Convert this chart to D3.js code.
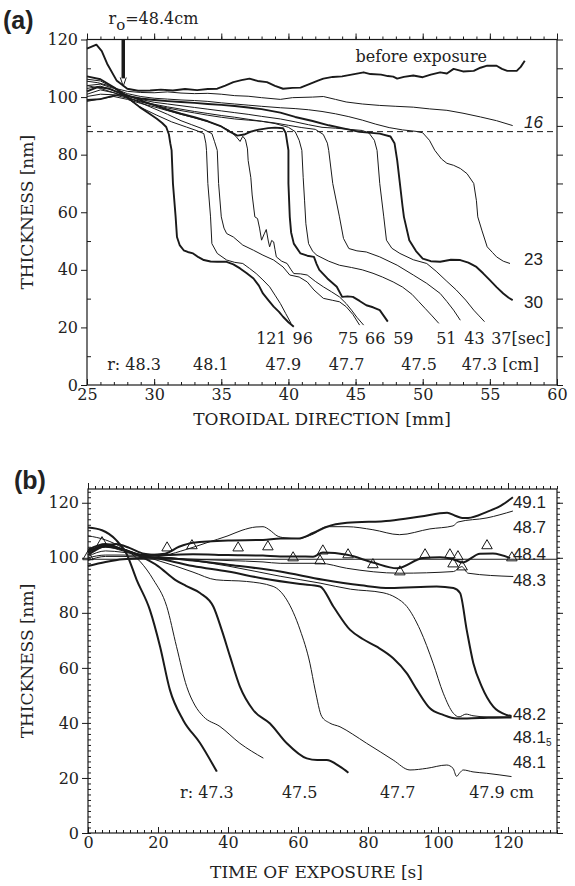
<!DOCTYPE html>
<html>
<head>
<meta charset="utf-8">
<script src="https://cdn.jsdelivr.net/npm/d3@7"></script>
<style>
  body { margin: 0; background: #fff; }
  svg text { font-family: "DejaVu Serif", serif; fill: #222; }
  .tick text { font-size: 16px; }
  .axis-title { font-size: 17px; }
  .note { font-size: 16px; }
  .sans { font-family: "Liberation Sans", Arial, sans-serif !important; font-size: 17px; }
  .panel { font-family: "Liberation Sans", Arial, sans-serif !important; font-size: 25px; font-weight: bold; }
</style>
</head>
<body>
<svg id="chart" width="575" height="886"></svg>
<script>
// ---------- panel (a): thickness profiles along the toroidal direction [mm, nm] ----------
const profBefore = [[25,116.8],[25.7,118.2],[26.1,116],[26.5,111.6],[27.2,105.8],[28,102.9],[28.8,102.2],[29.7,102.3],[30.5,102.6],[31.4,102.3],[32.3,102.8],[33.2,102.4],[34,102.8],[34.7,102.9],[35.3,104],[35.9,105.2],[36.5,105.9],[37.1,106.4],[37.7,105.6],[38.4,105.2],[39,103.9],[39.6,102.9],[40.3,103.2],[40.9,103.3],[41.6,104.6],[42.2,105.7],[42.6,106.4],[43.3,107],[44,107.2],[44.8,107.9],[45.6,108.6],[46.1,108],[46.9,107.8],[47.4,107.3],[47.8,107.1],[48.1,106.4],[48.6,107],[49.3,107.5],[50,106.9],[50.6,107.8],[51.3,108.6],[51.8,108.2],[52.3,109.8],[53,108.9],[53.8,109.1],[54.3,110.2],[54.8,110.9],[55.5,110.9],[55.9,109.8],[56.3,109.1],[57,109.1],[57.3,110.5],[57.6,112.6]];
const prof16 = [[25,105.5],[25.8,105],[26.6,104],[27.3,102.8],[28,102],[29,101.6],[30,101.5],[31,101.8],[32,101.4],[33,101.2],[34,101.3],[35,101],[36,100.5],[37,100.3],[38,99.8],[39.4,99.2],[40.3,99.8],[41.8,100],[42.6,100.2],[43.5,99.2],[44.3,98.3],[45.5,97.6],[46.8,97.1],[48,96.8],[49.3,96.5],[50.5,95.9],[51.8,95.4],[53,94.4],[54.3,93.1],[55.5,91.8],[56.7,90.1]];
const prof23 = [[25,104],[26,104.5],[27,103],[28,101.2],[29,100.2],[30,99.6],[31,99.3],[32,99],[33,98.8],[34,98.5],[35,98],[36,97.6],[37,97.2],[38,96.8],[39.4,96.3],[40.5,96],[41.5,95.6],[42.5,95],[43.5,94.2],[44.5,93.2],[45.5,92],[46.5,90.6],[47.5,89.4],[48.5,88.6],[49.5,88.1],[50,87.6],[50.5,85],[50.9,81.5],[51.4,78.5],[51.8,77],[52.3,76.3],[52.8,75.2],[53.3,73.4],[53.8,70],[54,64],[54.1,58.4],[54.4,53.8],[54.8,48],[55.2,46],[55.5,44.5],[56,43],[56.5,42.2]];
const prof30 = [[25,102],[25.8,103.5],[26.6,103],[27.4,101.5],[28.2,100.2],[29,99.5],[30,99],[31,98.6],[32,98.3],[33,98],[34,97.6],[35,97.3],[36,96.9],[37,96.4],[38,95.8],[39.4,94.6],[40.5,93.1],[41.8,91.7],[43,90.2],[44,89.2],[45.3,87.9],[46.8,87.3],[47.6,86.3],[47.9,84],[48.1,78],[48.3,70],[48.5,62],[48.6,58.4],[49,50.3],[49.5,46.5],[50,43.9],[50.6,43],[51.3,42.8],[52.1,43.5],[52.8,43.4],[53.4,42.5],[54,41],[54.5,38.8],[55,36.4],[55.5,34],[56,31.8],[56.4,30.3],[56.7,29.5]];
const prof37 = [[25,103],[26,103.8],[27,102.2],[28,100.4],[29,99.2],[30,98.2],[31,97.6],[32,97],[33,96.4],[34,95.8],[35,95.2],[36,94.6],[37,94],[38,93.3],[39.4,92.4],[40.5,91.4],[41.5,90.4],[42.5,89.5],[43.5,89.2],[44.5,88.8],[45.5,88.4],[46,87.5],[46.4,85],[46.6,81.5],[46.8,70],[47.1,58.4],[47.3,50.3],[47.7,47.5],[48.3,45.7],[49.3,43.5],[50.3,42.2],[51,39.5],[51.8,36],[52.5,33],[53.2,29.5],[53.8,26],[54.2,24],[54.6,22]];
const prof43 = [[25,101],[26,102.5],[27,101.5],[28,99.8],[29,98.5],[30,97.5],[31,96.6],[32,95.8],[33,95],[34,94.3],[35,93.6],[36,93],[37,92.3],[38,91.6],[39,91],[40,90.2],[41,89.4],[42,88.8],[42.6,87],[42.9,84],[43,81.5],[43.3,70],[43.8,58.4],[44.1,50.9],[44.5,47.4],[45.1,46.6],[45.8,46.2],[46.8,44.5],[48.1,41.6],[49.3,38.2],[50.3,35.3],[51.3,31.8],[51.8,29],[52.3,26],[52.8,22.5]];
const prof51 = [[25,100.2],[26,101],[27,100.8],[28,99.6],[29,98.3],[30,97.2],[31,96.2],[32,95.3],[33,94.5],[34,93.7],[35,93],[36,92.4],[37,92],[38,91.6],[39,90.8],[40,89.5],[40.5,88],[40.8,85],[41,81.5],[41.1,72],[41.2,64.2],[41.3,56],[41.5,49.1],[41.8,46.5],[42.1,45.1],[43,43],[43.8,41.6],[44.7,40.8],[45.5,40],[46.3,38.8],[47,37.5],[47.8,35.8],[48.5,34],[49.2,31.5],[49.7,29],[50.2,26.5],[50.7,24],[51.2,21.4]];
const prof59 = [[25,99],[26,99.3],[27,100.5],[27.7,101],[28.5,99.8],[29.3,98.3],[30,97.2],[31,95.6],[32,94.2],[33,93],[34,91.6],[35,89.8],[35.7,87.8],[36.2,86.6],[36.7,87],[37.2,88],[37.8,88.7],[38.5,89.2],[39,89.4],[39.6,89.2],[39.8,87.5],[40,81.5],[40,70],[40.1,58.4],[40.2,53],[40.4,49.1],[40.9,45.7],[41.4,44.9],[41.9,44.5],[42.1,42],[42.3,40],[42.9,37],[43.6,34.1],[44,30.6],[44.4,30.8],[44.8,30.6],[45.3,29.2],[45.8,27.7],[46.3,27],[46.8,26],[47.1,24],[47.4,22]];
const prof66 = [[25,98.5],[26,99.4],[27,100.2],[28,99.2],[29,97.8],[30,96.6],[31,95.3],[32,94],[33,92.8],[34,91.5],[35,89.8],[35.6,88.4],[36.1,86.3],[36.4,84.6],[36.6,86.4],[36.8,85.2],[36.95,82],[37,78],[37.2,72],[37.3,66],[37.5,58.4],[37.7,57.8],[37.85,54.5],[38,50.3],[38.2,52.5],[38.35,54],[38.5,50],[38.6,48],[38.75,50.2],[38.9,49.7],[39,47],[39.1,44.5],[39.5,43],[39.9,42.2],[40.2,40],[40.4,38.7],[40.9,38.6],[41.4,38.2],[42,36],[42.6,34.1],[43.2,32.4],[43.8,30.6],[44.3,28.3],[44.7,26],[45.1,23.5],[45.6,20.8]];
const prof75 = [[25,104],[26,103],[27,101.5],[28,100],[29,98],[30,96],[31,94],[32,91.8],[32.8,90.4],[33.6,89],[34.3,87.3],[34.5,84.5],[34.7,81.5],[34.8,70],[35,58.4],[35.2,54.5],[35.4,52.6],[35.9,51.4],[36.6,48.6],[37.4,46.8],[38.1,45.1],[38.9,43.4],[39.6,41],[40.1,38.2],[40.8,37.5],[41.4,35.8],[41.9,33],[42.6,30.1],[43.3,29.4],[43.8,28.9],[44.3,27.2],[44.8,24.5],[45.3,20.8]];
const prof96 = [[25,106.2],[26,105.6],[27,103.2],[28,99.6],[29,96.4],[30.2,93.7],[31.3,91.4],[32.4,89.6],[33.2,88.3],[33.7,87.3],[33.85,84],[33.9,81.5],[34,70],[34.2,58.4],[34.3,49.1],[34.7,45.7],[35.4,43.4],[36,42.6],[36.6,42.2],[37.1,40.5],[37.6,38.7],[38.1,36.5],[38.6,34.1],[39,31.2],[39.4,28.3],[39.8,24.8],[40.2,21.4]];
const prof121 = [[25,107.2],[26,106.2],[27,103.4],[27.7,101.2],[28.3,98.8],[28.9,96.6],[29.6,94.4],[30.2,92.5],[30.6,91],[30.9,89.6],[31.1,87],[31.2,84],[31.3,81.5],[31.4,70],[31.6,58.4],[31.7,51.4],[31.9,48.6],[32.2,46.8],[32.5,46.2],[32.9,45.7],[33.3,44.4],[33.7,43.4],[34.2,42.9],[34.7,42.8],[35.4,42.8],[35.9,41.9],[36.4,40.5],[36.9,38.8],[37.4,37],[37.8,34.5],[38.1,31.8],[38.5,29.5],[38.9,27.2],[39.3,25.4],[39.6,23.7],[40,21.8],[40.4,20.2]];

const profilesA = [profBefore, prof16, prof23, prof30, prof37, prof43, prof51, prof59, prof66, prof75, prof96, prof121];
const thickA = [true, false, false, true, false, false, false, true, false, false, false, true];

const criticalThickness = 88;   // dashed level, nm
const arrowPos = 27.7;          // r0 = 48.4 cm, mm

// exposure times [sec] written under the profile ends, and radii [cm]
const secLabels = ["121", "96", "75", "66", "59", "51", "43", "37[sec]"];
const secPos = [37.6, 40.3, 43.7, 45.7, 47.8, 51.0, 53.1, 55.1];
const rLabelsA = ["r: 48.3", "48.1", "47.9", "47.7", "47.5", "47.3 [cm]"];
const rPosA = [26.5, 32.9, 38.3, 43.0, 48.4, 52.9];
const rightLabelsA = ["16", "23", "30"];
const rightLabelsAY = [89.1, 41.6, 26.7];

// ---------- panel (b): thickness versus time of exposure [s, nm] ----------
const r491 = [[0,103],[5,105],[10,103],[16,101],[22,101.5],[26,104],[30,105.5],[40,106.3],[50,106.5],[55,107],[60,107],[64.3,109],[68.3,111.3],[74,112.7],[86.3,113.5],[95,115],[102.6,116.4],[104.9,115.3],[106.9,114.5],[108.6,114.5],[114,116.7],[118,119],[121.4,122]];
const r487 = [[0,102],[5,104],[10,102.5],[16,100.5],[22,101],[28,103],[34,105.5],[40,108],[44,110],[48,111.2],[50,111.3],[52,110],[54,108],[56,107.3],[60,107],[64.3,108.6],[68.3,111.3],[74,111.3],[81.4,110.2],[89,108.4],[97.7,110.5],[104.3,111.6],[105.7,113],[114,114.5],[121.4,117]];
const r484 = [[0,101],[4,104],[8,105],[12,103.5],[16,101.5],[20,101],[30,101.3],[40,101],[50,100.8],[54.9,100.5],[60,100.5],[64.3,100.4],[67.1,101.9],[74,101.1],[81.4,98.3],[88.3,96.2],[95.7,99.9],[100.6,100.2],[104.3,99.5],[106.9,98.3],[112,101.5],[115.7,101.6],[120.6,99.9]];
const r483 = [[0,99],[5,100.5],[10,100.5],[20,100],[30,99.5],[40,99],[50,98.5],[54.9,98],[66.3,98],[73.9,96.2],[89.1,94.4],[104.4,95],[106.8,96.8],[108.6,94.4],[121.5,93.2]];
const r482 = [[0,97],[5,98.5],[10,99.5],[20,100],[30,99],[40,97.5],[54.9,95],[67.2,92],[78,90],[86.3,89],[99.6,89.6],[104.4,89],[106.3,87.2],[108.2,73.8],[110.1,61.7],[112.5,53.2],[115.8,45.9],[119.6,42.9],[121,42.5]];
const r4815 = [[0,100],[5,101],[10,101],[20,100.5],[30,99],[40,97],[54.9,93.3],[66.3,90.8],[75,88.6],[84.3,87.3],[88,85.5],[91.1,82.3],[94.9,73.8],[98.6,61.7],[101.5,50.8],[104.4,43.5],[106,42.2],[108,43.2],[110,42.6],[114,42.2],[121,42.2]];
const r481 = [[0,102],[5,104],[10,103],[15,101],[20,99.8],[30,97],[40,95],[50,92.5],[60.6,90.5],[66.3,89.6],[70.1,82.3],[74.9,73.8],[78.5,70.5],[82.5,67.7],[87.2,63.5],[91.1,58],[94,52],[97.7,45.3],[101.5,42.9],[105.3,41.6],[112,41.8],[119.6,42],[121,42]];
const r479 = [[0,100.5],[5,102.5],[10,102],[15,101],[20,99],[25,97],[30,94.8],[36.6,92],[45.3,91.4],[52.9,89.6],[56.8,84.7],[60.6,73.8],[63.4,61.7],[64.9,52],[66.8,42.3],[69,40],[72,38.6],[75.5,36],[79.6,32.6],[83.5,29.5],[87.2,26.5],[92,22.9],[96.8,23.5],[102.5,24.7],[104.3,23.5],[105.3,20.6],[106.3,22],[107.2,22.9],[110,22.2],[113.9,21.7],[121,20.5]];
const r477 = [[0,102.5],[5,104.5],[10,103],[15,100.5],[20,97],[24.9,92],[28,89.8],[32,87.2],[35.8,82.3],[38.2,73.8],[40.6,64.1],[43.4,53.2],[47.2,44.7],[52,39.8],[56.8,32.6],[62.5,27.1],[65.5,26.5],[68.2,26.5],[72,24.1],[74.4,21.9]];
const r475 = [[0,108],[5,106.5],[10,103.5],[15,98.5],[18.7,92],[22.5,82.3],[25.3,67.7],[28.2,53.2],[30.5,46.5],[33,42.3],[37.7,38.7],[43.4,32.6],[50.1,27.2]];
const r473 = [[0,111],[4,110],[8,106.5],[11,101.5],[13.9,92],[17.7,81],[20.6,67.7],[23.4,52],[27.2,41],[32,32.7],[36.8,22.3]];

const curvesB = [r491, r487, r484, r483, r482, r4815, r481, r479, r477, r475, r473];
const thickB = [true, false, true, false, true, false, true, false, true, false, true];

const refLevelB = 99.5;
const triTimes = [0, 4, 22.6, 29.7, 42.9, 51.4, 58.6, 66.3, 67.1, 74.3, 81.4, 89.1, 96.3, 103.4, 104.3, 105.7, 106.9, 114, 121.1];
const triValues = [100.4, 105.5, 103.6, 104.4, 103.6, 104, 100, 98.9, 102.5, 101.1, 97.5, 94.9, 101.1, 101.1, 97.8, 100.4, 96.7, 104.4, 100];

const rightLabelsB = ["49.1", "48.7", "48.4", "48.3", "48.2", "48.1", "48.1"];
const rightLabelsBY = [118.2, 109.1, 99.3, 89.8, 41.1, 32.7, 23.6];
const rLabelsB = ["r: 47.3", "47.5", "47.7", "47.9 cm"];
const rPosB = [26.3, 55.4, 83.4, 108.9];

// ---------- drawing ----------
const svg = d3.select("#chart");
const ink = "#1a1a1a";

const xA = d3.scaleLinear().domain([25, 60]).range([87, 557]);
const yA = d3.scaleLinear().domain([0, 120]).range([385, 39.5]);
const xB = d3.scaleLinear().domain([0, 134]).range([88, 557]);
const yB = d3.scaleLinear().domain([0, 125]).range([833, 489]);

function addAxis(axis, transform, keepText) {
  const g = svg.append("g").attr("transform", transform).call(axis);
  g.select(".domain").remove();
  g.selectAll(".tick line").attr("stroke", ink).attr("stroke-width", 1);
  if (!keepText) g.selectAll(".tick text").remove();
  return g;
}

function frame(x, y) {
  svg.append("rect")
    .attr("x", x.range()[0]).attr("y", y.range()[1])
    .attr("width", x.range()[1] - x.range()[0])
    .attr("height", y.range()[0] - y.range()[1])
    .attr("fill", "none").attr("stroke", ink).attr("stroke-width", 1.2);
}

// ----- panel (a) -----
addAxis(d3.axisBottom(xA).tickValues(d3.range(25, 61, 1)).tickSize(-3), `translate(0,${yA(0)})`, false);
addAxis(d3.axisBottom(xA).tickValues(d3.range(25, 61, 5)).tickSize(-6).tickPadding(4).tickFormat(d3.format("d")), `translate(0,${yA(0)})`, true);
addAxis(d3.axisTop(xA).tickValues(d3.range(25, 61, 1)).tickSize(3), `translate(0,${yA(120)})`, false);
addAxis(d3.axisTop(xA).tickValues(d3.range(25, 61, 5)).tickSize(6), `translate(0,${yA(120)})`, false);
addAxis(d3.axisLeft(yA).tickValues(d3.range(0, 121, 20)).tickSize(6).tickPadding(3), `translate(${xA(25)},0)`, true);
addAxis(d3.axisLeft(yA).tickValues(d3.range(10, 120, 20)).tickSize(-4), `translate(${xA(25)},0)`, false);
addAxis(d3.axisRight(yA).tickValues(d3.range(0, 121, 10)).tickSize(6), `translate(${xA(60)},0)`, false);
frame(xA, yA);

svg.append("line")
  .attr("x1", xA(25)).attr("x2", xA(60))
  .attr("y1", yA(criticalThickness)).attr("y2", yA(criticalThickness))
  .attr("stroke", ink).attr("stroke-width", 1).attr("stroke-dasharray", "6,4");

const lineA = d3.line().x(d => xA(d[0])).y(d => yA(d[1]));
svg.append("g").selectAll("path").data(profilesA).join("path")
  .attr("d", lineA)
  .attr("fill", "none")
  .attr("stroke", ink)
  .attr("stroke-linejoin", "round")
  .attr("stroke-width", (d, i) => thickA[i] ? 1.9 : 1);

// arrow marking r0
svg.append("line")
  .attr("x1", xA(arrowPos)).attr("x2", xA(arrowPos))
  .attr("y1", yA(120)).attr("y2", yA(106.5))
  .attr("stroke", ink).attr("stroke-width", 3.5);
svg.append("path")
  .attr("d", `M${xA(arrowPos) - 3},${yA(106.8)}L${xA(arrowPos)},${yA(103.8)}L${xA(arrowPos) + 3},${yA(106.8)}`)
  .attr("fill", "none").attr("stroke", ink).attr("stroke-width", 1);

// texts (a)
svg.append("text").attr("class", "panel").attr("x", 3).attr("y", 29).text("(a)");
const r0 = svg.append("text").attr("class", "note").attr("x", xA(26.6)).attr("y", 24);
r0.append("tspan").text("r");
r0.append("tspan").attr("dy", 6).style("font-size", "15px").text("o");
r0.append("tspan").attr("dy", -6).text("=48.4cm");

svg.append("text").attr("class", "note").attr("x", xA(45.0)).attr("y", yA(112.1)).text("before exposure");
svg.append("g").selectAll("text").data(rightLabelsA).join("text")
  .attr("class", "sans")
  .attr("x", xA(57.55)).attr("y", (d, i) => yA(rightLabelsAY[i]))
  .style("font-style", (d, i) => i === 0 ? "italic" : "normal")
  .text(d => d);
svg.append("g").selectAll("text").data(secLabels).join("text")
  .attr("class", "note").attr("x", (d, i) => xA(secPos[i])).attr("y", 344).text(d => d);
svg.append("g").selectAll("text").data(rLabelsA).join("text")
  .attr("class", "note").attr("x", (d, i) => xA(rPosA[i])).attr("y", 370).text(d => d);

svg.append("text").attr("class", "axis-title").attr("text-anchor", "middle")
  .attr("x", (xA(25) + xA(60)) / 2).attr("y", 425).text("TOROIDAL DIRECTION [mm]");
svg.append("text").attr("class", "axis-title").attr("text-anchor", "middle")
  .attr("transform", `translate(33,${(yA(0) + yA(120)) / 2}) rotate(-90)`).text("THICKNESS [nm]");

// ----- panel (b) -----
addAxis(d3.axisBottom(xB).tickValues(d3.range(0, 135, 2)).tickSize(-3), `translate(0,${yB(0)})`, false);
addAxis(d3.axisBottom(xB).tickValues(d3.range(0, 134, 20)).tickSize(-6).tickPadding(4).tickFormat(d3.format("d")), `translate(0,${yB(0)})`, true);
addAxis(d3.axisTop(xB).tickValues(d3.range(0, 135, 2)).tickSize(3), `translate(0,${yB(125)})`, false);
addAxis(d3.axisTop(xB).tickValues(d3.range(0, 134, 20)).tickSize(6), `translate(0,${yB(125)})`, false);
addAxis(d3.axisLeft(yB).tickValues(d3.range(0, 121, 20)).tickSize(6).tickPadding(3), `translate(${xB(0)},0)`, true);
addAxis(d3.axisLeft(yB).tickValues(d3.range(0, 126, 2)).tickSize(-3), `translate(${xB(0)},0)`, false);
addAxis(d3.axisRight(yB).tickValues(d3.range(0, 126, 2)).tickSize(3), `translate(${xB(134)},0)`, false);
addAxis(d3.axisRight(yB).tickValues(d3.range(0, 121, 20)).tickSize(6), `translate(${xB(134)},0)`, false);
frame(xB, yB);

svg.append("line")
  .attr("x1", xB(0)).attr("x2", xB(134))
  .attr("y1", yB(refLevelB)).attr("y2", yB(refLevelB))
  .attr("stroke", ink).attr("stroke-width", 1.1);

const lineB = d3.line().curve(d3.curveMonotoneX).x(d => xB(d[0])).y(d => yB(d[1]));
svg.append("g").selectAll("path").data(curvesB).join("path")
  .attr("d", lineB)
  .attr("fill", "none")
  .attr("stroke", ink)
  .attr("stroke-width", (d, i) => thickB[i] ? 2 : 1);

svg.append("g").selectAll("path").data(triTimes).join("path")
  .attr("transform", (d, i) => `translate(${xB(d)},${yB(triValues[i])})`)
  .attr("d", d3.symbol(d3.symbolTriangle, 48))
  .attr("fill", "none").attr("stroke", ink).attr("stroke-width", 1);

svg.append("text").attr("class", "panel").attr("x", 14).attr("y", 489).text("(b)");

const rl = svg.append("g").selectAll("text").data(rightLabelsB).join("text")
  .attr("class", "sans")
  .attr("x", xB(121.4)).attr("y", (d, i) => yB(rightLabelsBY[i]))
  .text(d => d);
rl.filter((d, i) => i === 5).append("tspan").attr("dy", 3).style("font-size", "10px").text("5");

svg.append("g").selectAll("text").data(rLabelsB).join("text")
  .attr("class", "note").attr("x", (d, i) => xB(rPosB[i])).attr("y", 798).text(d => d);

svg.append("text").attr("class", "axis-title").attr("text-anchor", "middle")
  .attr("x", (xB(0) + xB(134)) / 2 - 6).attr("y", 878).text("TIME OF EXPOSURE [s]");
svg.append("text").attr("class", "axis-title").attr("text-anchor", "middle")
  .attr("transform", `translate(33,${(yB(0) + yB(125)) / 2}) rotate(-90)`).text("THICKNESS [nm]");
</script>
</body>
</html>
